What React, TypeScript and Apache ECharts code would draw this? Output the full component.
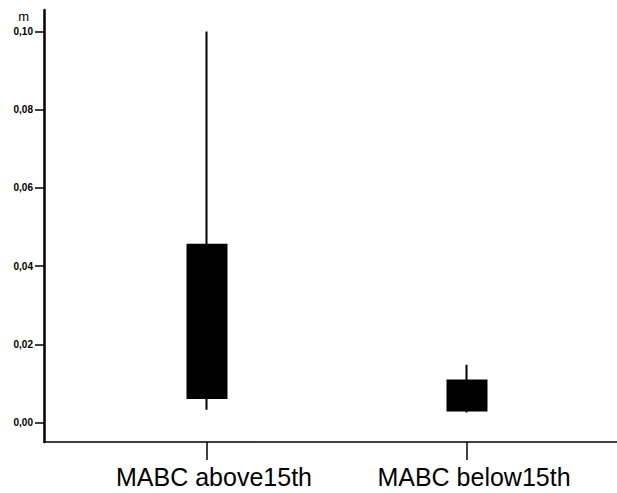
import React, { useEffect, useRef } from "react";
import * as echarts from "echarts";

const categories = ["MABC above15th", "MABC below15th"];
// [open(Q1), close(Q3), lowest, highest]
const boxValues = [
  [0.0063, 0.0455, 0.0033, 0.1],
  [0.0031, 0.0108, 0.0026, 0.0148],
];
const yTicks = [0, 0.02, 0.04, 0.06, 0.08, 0.1];
const yUnit = "m";

export default function App() {
  const ref = useRef<HTMLDivElement>(null);
  useEffect(() => {
    const chart = echarts.init(ref.current!, null, { renderer: "svg" });
    const font = "'Liberation Sans', Arial, sans-serif";
    chart.setOption({
      animation: false,
      backgroundColor: "#ffffff",
      grid: [
        { left: 77, right: 20, top: 10, height: 432 },
        { left: 44, right: 0, top: 10, height: 432 },
      ],
      xAxis: [
        {
          type: "category",
          gridIndex: 0,
          data: categories,
          axisLine: { show: false, onZero: false },
          axisTick: {
            show: true,
            alignWithLabel: true,
            length: 18,
            lineStyle: { color: "#000", width: 1.5 },
          },
          axisLabel: {
            margin: 22,
            color: "#000",
            fontFamily: font,
            fontSize: 25,
            padding: [0, 0, 0, 14],
          },
        },
        {
          type: "value",
          gridIndex: 1,
          min: 0,
          max: 1,
          axisLine: { show: true, onZero: false, lineStyle: { color: "#000", width: 1.5 } },
          axisTick: { show: false },
          axisLabel: { show: false },
          splitLine: { show: false },
        },
      ],
      yAxis: [
        {
          type: "value",
          gridIndex: 0,
          min: -0.00494,
          max: 0.1055,
          offset: 33,
          name: yUnit,
          nameLocation: "end",
          nameGap: -13,
          nameTextStyle: {
            color: "#000",
            fontFamily: font,
            fontSize: 13,
            align: "right",
            padding: [0, 15, 0, 0],
          },
          axisLine: { show: true, onZero: false, lineStyle: { color: "#000", width: 2.5 } },
          axisTick: {
            show: true,
            length: 9,
            customValues: yTicks,
            lineStyle: { color: "#000", width: 1.5 },
          },
          axisLabel: {
            customValues: yTicks,
            margin: 11,
            color: "#000",
            fontFamily: font,
            fontSize: 10,
            fontWeight: "bold",
            formatter: (v: number) => v.toFixed(2).replace(".", ","),
          },
          splitLine: { show: false },
        },
        {
          type: "value",
          gridIndex: 1,
          show: false,
          min: 0,
          max: 1,
        },
      ],
      series: [
        {
          type: "candlestick",
          xAxisIndex: 0,
          yAxisIndex: 0,
          barWidth: 40,
          data: boxValues,
          itemStyle: {
            color: "#000",
            color0: "#000",
            borderColor: "#000",
            borderColor0: "#000",
            borderWidth: 2,
          },
        },
      ],
    });
    return () => chart.dispose();
  }, []);
  return (
    <div
      ref={ref}
      style={{ position: "absolute", left: 0, top: 0, width: 617, height: 493 }}
    />
  );
}
